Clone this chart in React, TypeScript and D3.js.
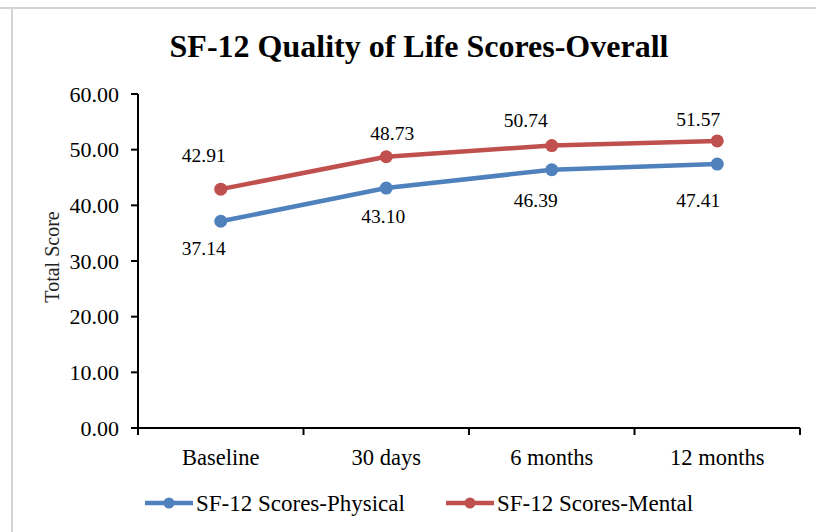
import React from 'react';
import * as d3 from 'd3';

// chart data
const categories = ['Baseline', '30 days', '6 months', '12 months'];
const physical = [37.14, 43.1, 46.39, 47.41];
const mental = [42.91, 48.73, 50.74, 51.57];
const yTicks = [0, 10, 20, 30, 40, 50, 60];

const series = [
  { name: 'SF-12 Scores-Physical', values: physical, color: '#4f81bd' },
  { name: 'SF-12 Scores-Mental', values: mental, color: '#c0504d' }
];

// label nudges (the labels were dragged by hand in the original)
const labelNudge = [
  { dx: [-17, -3, -16, -19], dy: [27, 28, 30, 36] },
  { dx: [-17, 6, -26, -19], dy: [-34, -24, -25, -22] }
];

const W = 816;
const H = 532;
const font = '"Liberation Serif", "Times New Roman", serif';

const x = d3.scaleBand<string>().domain(categories).range([138, 800]).padding(0);
const y = d3.scaleLinear().domain([0, 60]).range([428, 94]);
const cx = (c: string) => (x(c) as number) + x.bandwidth() / 2;

const line = d3
  .line<number>()
  .x((_, i) => cx(categories[i]))
  .y(d => y(d));

export default function App() {
  const bounds = categories.map(c => x(c) as number).concat([800]);
  return (
    <svg width={W} height={H} style={{ position: 'absolute', left: 0, top: 0, background: '#fff' }}>
      {/* frame */}
      <line x1={0} x2={W} y1={8} y2={8} stroke="#d4d4d4" strokeWidth={2} />
      <line x1={12} x2={12} y1={8} y2={H} stroke="#d4d4d4" strokeWidth={2} />

      <text x={419} y={57} textAnchor="middle" fontFamily={font} fontSize={32} fontWeight="bold" fill="#000">
        SF-12 Quality of Life Scores-Overall
      </text>

      {/* y axis */}
      <line x1={138} x2={138} y1={y(60)} y2={435} stroke="#000" strokeWidth={2} />
      {yTicks.map(t => (
        <g key={t}>
          <line x1={131} x2={138} y1={y(t)} y2={y(t)} stroke="#000" strokeWidth={2} />
          <text x={119} y={y(t)} dy="0.35em" textAnchor="end" fontFamily={font} fontSize={22} fill="#000">
            {t.toFixed(2)}
          </text>
        </g>
      ))}
      <text
        transform={`translate(52,257) rotate(-90)`}
        textAnchor="middle"
        dy="0.35em"
        fontFamily={font}
        fontSize={20}
        fill="#222"
      >
        Total Score
      </text>

      {/* x axis */}
      <line x1={138} x2={800} y1={y(0)} y2={y(0)} stroke="#000" strokeWidth={2} />
      {bounds.map((b, i) => (
        <line key={i} x1={b} x2={b} y1={y(0)} y2={y(0) + 7} stroke="#000" strokeWidth={2} />
      ))}
      {categories.map(c => (
        <text key={c} x={cx(c)} y={457} dy="0.35em" textAnchor="middle" fontFamily={font} fontSize={22.5} fill="#000">
          {c}
        </text>
      ))}

      {/* series */}
      {series.map((s, si) => (
        <g key={s.name}>
          <path d={line(s.values) || ''} fill="none" stroke={s.color} strokeWidth={4.5} strokeLinejoin="round" />
          {s.values.map((v, i) => (
            <circle key={i} cx={cx(categories[i])} cy={y(v)} r={6.5} fill={s.color} />
          ))}
          {s.values.map((v, i) => (
            <text
              key={'l' + i}
              x={cx(categories[i]) + labelNudge[si].dx[i]}
              y={y(v) + labelNudge[si].dy[i]}
              dy="0.35em"
              textAnchor="middle"
              fontFamily={font}
              fontSize={19.5}
              fill="#000"
            >
              {v.toFixed(2)}
            </text>
          ))}
        </g>
      ))}

      {/* legend */}
      {series.map((s, i) => {
        const lx = i === 0 ? 145 : 446;
        return (
          <g key={s.name} transform={`translate(${lx},503)`}>
            <line x1={0} x2={48} y1={0} y2={0} stroke={s.color} strokeWidth={4.5} />
            <circle cx={24} cy={0} r={5.5} fill={s.color} />
            <text x={51} y={0} dy="0.35em" fontFamily={font} fontSize={23} fill="#000">
              {s.name}
            </text>
          </g>
        );
      })}
    </svg>
  );
}
